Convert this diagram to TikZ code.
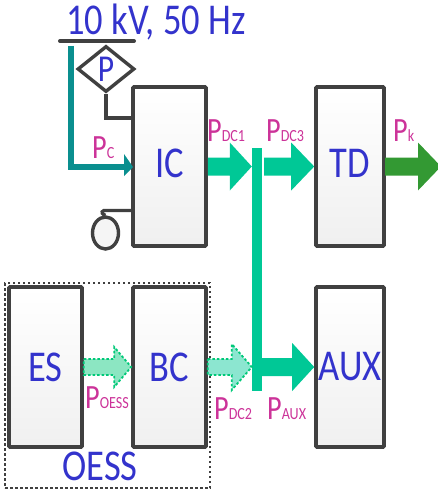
\documentclass[tikz,border=0pt]{standalone}
\usepackage{fontspec}
\setmainfont[FakeStretch=0.83]{Carlito}
\usetikzlibrary{calc,shapes.geometric}
\definecolor{blk}{HTML}{404040}
\definecolor{txtblue}{HTML}{3333CC}
\definecolor{txtmag}{HTML}{CC3399}
\definecolor{teal1}{HTML}{0A8F8F}
\definecolor{grn}{HTML}{00C896}
\definecolor{dgrn}{HTML}{339933}
\definecolor{dashg}{HTML}{00C878}
\newcommand{\fsz}[1]{\fontsize{#1}{#1}\selectfont}
\newcommand{\plab}[2]{{\fsz{34}P}{\fsz{17}#2}}
\newcommand{\bigarrow}[6]{% style, from, to, head length, shaft half, head half
  \path[#1] ($(#2)+(0,-#5)$) -- ($(#3)+(-#4,-#5)$) -- ($(#3)+(-#4,-#6)$) -- (#3)
    -- ($(#3)+(-#4,#6)$) -- ($(#3)+(-#4,#5)$) -- ($(#2)+(0,#5)$) -- cycle;}
\tikzset{
  block/.style={draw=blk,line width=3.6pt,rounded corners=1pt,top color=white,bottom color=black!6,
    inner sep=0pt,text=txtblue,font=\fsz{44}},
  thin line/.style={draw=blk,line width=3.4pt},
  title text/.style={text=txtblue,font=\fsz{44},inner sep=0pt},
  power/.style={text=txtmag,inner sep=0pt,anchor=base west},
  solid arrow/.style={fill=grn},
  final arrow/.style={fill=dgrn},
  dash arrow/.style={draw=dashg,line width=1.8pt,dash pattern=on 2.5pt off 2pt},
}
\begin{document}
\begin{tikzpicture}[x=1pt,y=-1pt]
\useasboundingbox (0,0) rectangle (437,492);
% group frame
\node[draw=blk,line width=1.8pt,dash pattern=on 2.5pt off 2.5pt,minimum width=205pt,minimum height=205pt,inner sep=0pt] (oess) at (107.5,385.5) {};
% blocks
\node[block,minimum width=73pt,minimum height=159pt] (ic) at (169.5,166.5) {\raisebox{6pt}{IC}};
\node[block,minimum width=68pt,minimum height=159pt] (td) at (350,166.5) {\raisebox{6pt}{TD}};
\node[block,minimum width=68pt,minimum height=160pt] (aux) at (350,367) {AUX};
\node[block,minimum width=73pt,minimum height=160pt] (es) at (45.5,367) {ES};
\node[block,minimum width=73pt,minimum height=160pt] (bc) at (169.5,367) {BC};
% bus and measuring
\coordinate (busl) at (60,41);
\coordinate (busr) at (134,41);
\draw[thin line,line width=4pt,line cap=round] (busl) -- (busr);
\node[draw=blk,line width=3.4pt,diamond,minimum width=57pt,minimum height=46pt,inner sep=0pt,text=txtblue,font=\fsz{38}] (pm) at (106,69) {P};
\coordinate (picon) at (133,118);
\draw[thin line] (pm.south) |- (picon);
\node[draw=blk,line width=3.4pt,ellipse,fill=black!4,minimum width=26pt,minimum height=32pt,inner sep=0pt] (gen) at (105.5,233) {};
\coordinate (icgen) at (133,210.5);
\draw[thin line] (icgen) -- (104,210.5) .. controls (100,212) and (103,215) .. (gen.north);
% teal feed
\coordinate (tealtop) at (71,46);
\coordinate (tealin) at (133,167);
\draw[teal1,line width=5.5pt] (tealtop) -- (71,167) -- (125,167);
\fill[teal1] (tealin) -- (124,154) -- (124,176) -- cycle;
% bar
\node[fill=grn,minimum width=10pt,minimum height=243pt,inner sep=0pt] (bar) at (257,269.5) {};
% power arrows
\coordinate (a1e) at (bar.west |- ic.east);
\coordinate (a3s) at (264,166.5);
\coordinate (auxs) at (bar.east |- aux.west);
\coordinate (pks) at (385,166.5);
\coordinate (pke) at (441,166.5);
\bigarrow{solid arrow}{ic.east}{a1e}{22}{9}{24}
\bigarrow{solid arrow}{a3s}{td.west}{23}{9}{24}
\bigarrow{final arrow}{pks}{pke}{23}{9}{24}
\bigarrow{solid arrow}{auxs}{aux.west}{22}{9}{24}
\coordinate (dc2e) at (bar.west |- bc.east);
\bigarrow{fill=grn!45,dash arrow}{bc.east}{dc2e}{20}{8}{23}
\bigarrow{fill=dashg!45,dash arrow}{es.east}{bc.west}{17}{8}{20}
% texts
\node[title text,anchor=base west] (volt) at (66,35) {10 kV, 50 Hz};
\node[title text,anchor=base] (oesst) at (100,480) {OESS};
\node[power] (lc) at (92,158) {\plab{}{C}};
\node[power] (ldc1) at (207,141) {\plab{}{DC1}};
\node[power] (ldc3) at (266,141) {\plab{}{DC3}};
\node[power] (lk) at (393,141) {\plab{}{k}};
\node[power] (loe) at (85,408) {\plab{}{OESS}};
\node[power] (ldc2) at (214,419) {\plab{}{DC2}};
\node[power] (laux) at (267,419) {\plab{}{AUX}};
\end{tikzpicture}
\end{document}
